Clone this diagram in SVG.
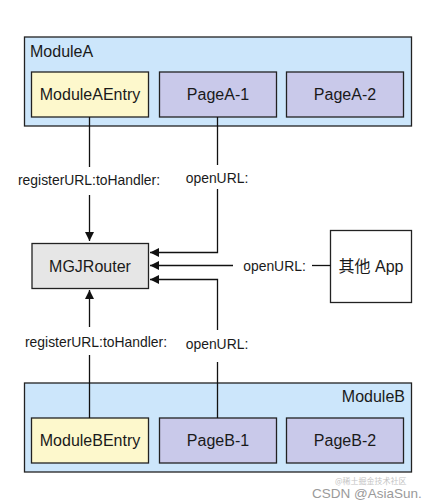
<svg xmlns="http://www.w3.org/2000/svg" width="432" height="504" viewBox="0 0 432 504">
<defs>
<marker id="arr" viewBox="0 0 10 10" refX="10" refY="5" markerWidth="9" markerHeight="9" markerUnits="userSpaceOnUse" orient="auto">
<path d="M0,0 L10,5 L0,10 z" fill="#111"/>
</marker>
<style>
text{font-family:"Liberation Sans",Arial,sans-serif;fill:#1a1a1a}
.module{fill:#cce6fb;stroke:#222;stroke-width:1.3}
.entry{fill:#fdf8cc;stroke:#222;stroke-width:1.3}
.page{fill:#c9c9ea;stroke:#222;stroke-width:1.3}
.router{fill:#e6e6e6;stroke:#222;stroke-width:1.3}
.app{fill:#ffffff;stroke:#222;stroke-width:1.3}
.node{font-size:16px;text-anchor:middle}
.edge{fill:none;stroke:#111;stroke-width:1.3}
.elbl{font-size:13.9px;text-anchor:middle}
</style>
</defs>
<rect width="432" height="504" fill="#ffffff"/>

<g id="moduleA">
<rect class="module" x="24.5" y="37" width="387" height="89"/>
<text x="30" y="57" style="font-size:16px">ModuleA</text>
</g>
<g id="moduleAEntry">
<rect class="entry" x="31.5" y="72" width="117" height="45"/>
<text class="node" x="90" y="100">ModuleAEntry</text>
</g>
<g id="pageA1">
<rect class="page" x="159.5" y="72" width="117" height="45"/>
<text class="node" x="218" y="100">PageA-1</text>
</g>
<g id="pageA2">
<rect class="page" x="286.5" y="72" width="117" height="45"/>
<text class="node" x="345" y="100">PageA-2</text>
</g>

<g id="router">
<rect class="router" x="32" y="243.5" width="116.5" height="45"/>
<text class="node" x="90" y="272">MGJRouter</text>
</g>

<g id="otherApp">
<rect class="app" x="330.5" y="230.5" width="81" height="72"/>
<text class="node" x="371" y="272" style="font-family:'Liberation Sans','Noto Sans CJK SC',sans-serif">其他 App</text>
</g>

<g id="moduleB">
<rect class="module" x="24.5" y="383" width="387" height="89"/>
<text x="405" y="402" style="font-size:16px;text-anchor:end">ModuleB</text>
</g>
<g id="moduleBEntry">
<rect class="entry" x="31.5" y="418" width="117" height="45"/>
<text class="node" x="90" y="446">ModuleBEntry</text>
</g>
<g id="pageB1">
<rect class="page" x="159.5" y="418" width="117" height="45"/>
<text class="node" x="218" y="446">PageB-1</text>
</g>
<g id="pageB2">
<rect class="page" x="286.5" y="418" width="117" height="45"/>
<text class="node" x="345" y="446">PageB-2</text>
</g>

<g id="connectors">
<path class="edge" d="M89.5,117 V167"/>
<path class="edge" d="M89.5,195 V241" marker-end="url(#arr)"/>
<text class="elbl" x="89" y="185">registerURL:toHandler:</text>

<path class="edge" d="M217.5,117 V165"/>
<path class="edge" d="M217.5,189 V252.5 H150" marker-end="url(#arr)"/>
<text class="elbl" x="217" y="183">openURL:</text>

<path class="edge" d="M233,265.5 H150" marker-end="url(#arr)"/>
<path class="edge" d="M312,265.5 H330.5"/>
<text class="elbl" x="274.5" y="270.5">openURL:</text>

<path class="edge" d="M89.5,418 V355"/>
<path class="edge" d="M89.5,327 V290" marker-end="url(#arr)"/>
<text class="elbl" x="96" y="347">registerURL:toHandler:</text>

<path class="edge" d="M217.5,418 V362"/>
<path class="edge" d="M217.5,330 V279.5 H150" marker-end="url(#arr)"/>
<text class="elbl" x="217" y="349">openURL:</text>
</g>

<g id="watermark">
<text x="312" y="498" style="font-size:13.5px;fill:#9a9a9a">CSDN @AsiaSun.</text>
<text x="335" y="484" style="font-size:8px;fill:#c4c4c4;font-family:'Noto Sans CJK SC',sans-serif">@稀土掘金技术社区</text>
</g>
</svg>
